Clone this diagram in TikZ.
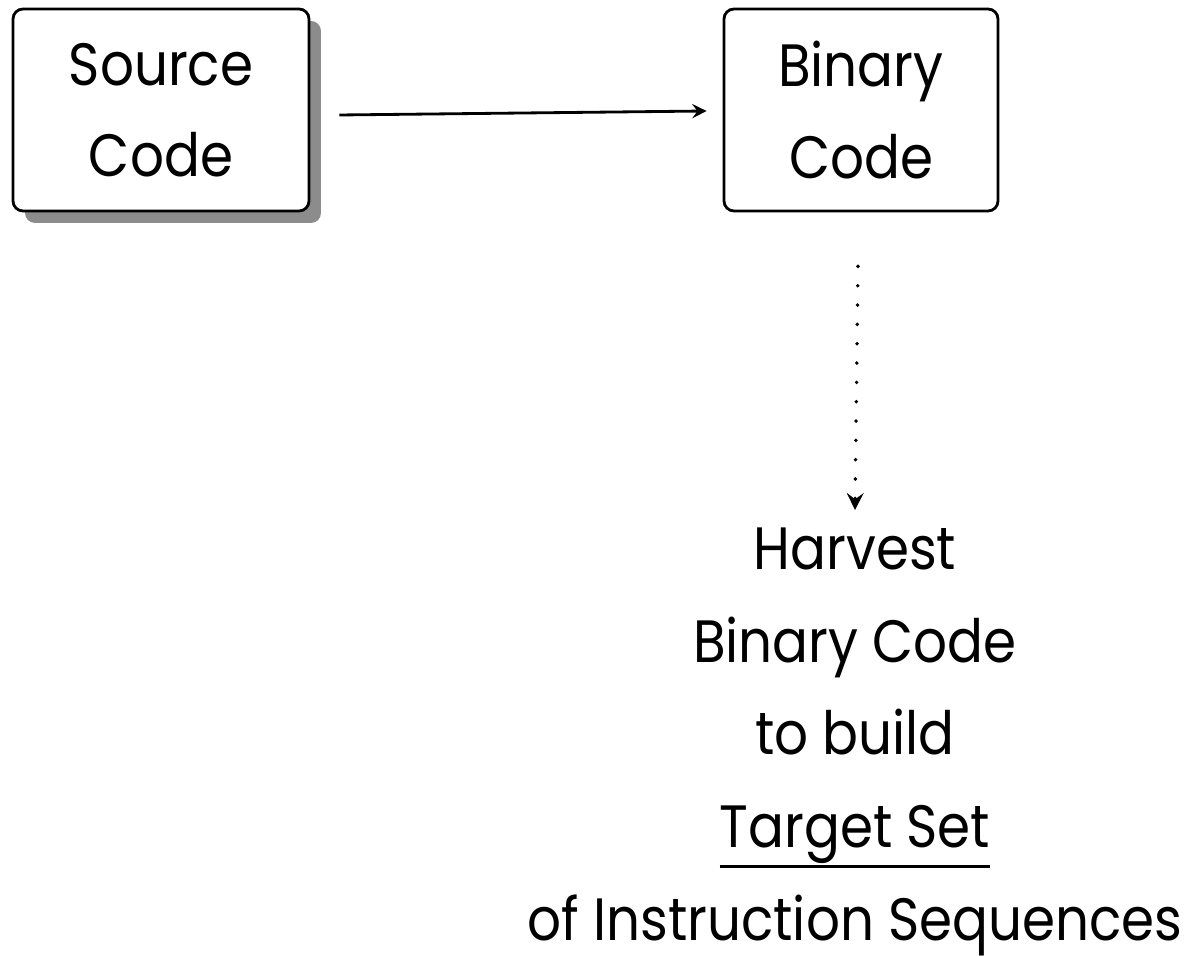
\documentclass[tikz,border=0pt]{standalone}
\usepackage{fontspec}
\setmainfont{Poppins}[FakeStretch=0.89]
\usetikzlibrary{shadows}
\newcommand\targetline[1]{\setbox0\hbox{#1}\rlap{\rule[-5.8pt]{\wd0}{0.9pt}}#1}
\begin{document}
\begin{tikzpicture}
      \useasboundingbox (0,0) rectangle (11.88,-9.56);
      \def\fs{\fontsize{17}{26}\selectfont}
      \tikzset{codebox/.style={draw,thick,rounded corners=0.1cm,fill=white,align=center,
          font=\fs,inner sep=0pt,minimum height=2.02cm}}
      \node[codebox,minimum width=2.96cm,
          drop shadow={shadow xshift=0.12cm,shadow yshift=-0.12cm,fill=black!45,opacity=1}]
          (src) at (1.61,-1.10) {Source\\Code};
      \node[codebox,minimum width=2.74cm] (bin) at (8.61,-1.10) {Binary\\Code};
      \draw[thick,-stealth] ([xshift=0.29cm,yshift=-0.05cm]src.east) -- ([xshift=-0.16cm,yshift=-0.01cm]bin.west);
      \node[anchor=north,align=center,font=\fontsize{17}{26.4}\selectfont,inner sep=0pt]
          (harvest) at (8.55,-5.27) {Harvest\\Binary Code\\to build\\\targetline{Target Set}\\of Instruction Sequences};
      \draw[line width=1.1pt,-stealth,line cap=round,dash pattern=on 0pt off 5.5pt]
          ([xshift=-0.03cm,yshift=-0.54cm]bin.south) -- ([yshift=0.17cm]harvest.north);
  \end{tikzpicture}
\end{document}
